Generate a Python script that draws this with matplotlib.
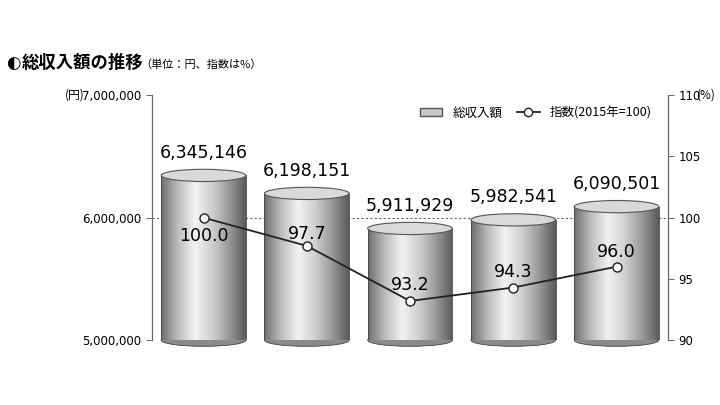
import numpy as np
import matplotlib
matplotlib.use("Agg")
import matplotlib.pyplot as plt
from matplotlib.path import Path
from matplotlib.patches import Ellipse, PathPatch, Patch
from matplotlib.lines import Line2D

plt.rcParams['font.family'] = ['Noto Sans CJK JP', 'DejaVu Sans']

totals = [6345146, 6198151, 5911929, 5982541, 6090501]
total_labels = ["6,345,146", "6,198,151", "5,911,929", "5,982,541", "6,090,501"]
index_vals = [100.0, 97.7, 93.2, 94.3, 96.0]
index_labels = ["100.0", "97.7", "93.2", "94.3", "96.0"]

fig = plt.figure(figsize=(7.2, 4.05), dpi=100)
ax = fig.add_axes([0.211, 0.160, 0.717, 0.605])
ax.set_xlim(-0.5, 4.5)
ax.set_ylim(5_000_000, 7_000_000)
ax2 = ax.twinx()
ax2.set_ylim(90, 110)

w = 0.82
eh = 100_000
cmap = matplotlib.colors.LinearSegmentedColormap.from_list(
    "cyl", ["#6e6e6e", "#bdbdbd", "#f2f2f2", "#d0d0d0", "#9a9a9a", "#5a5a5a"])
grad = np.linspace(0, 1, 256).reshape(1, -1)
y0 = 5_000_000
for i, v in enumerate(totals):
    l, r = i - w/2, i + w/2
    ax.add_patch(Ellipse((i, y0), w, eh, facecolor='#8a8a8a', edgecolor='#444444',
                         lw=0.6, clip_on=False, zorder=0.8))
    pp = PathPatch(Path([(l, v), (l, y0), (r, y0), (r, v), (l, v)]), facecolor='none',
                   edgecolor='#444444', lw=0.6, zorder=2)
    ax.add_patch(pp)
    im = ax.imshow(grad, cmap=cmap, aspect='auto', extent=[l, r, y0, v], zorder=1)
    im.set_clip_path(pp)
    ax.add_patch(Ellipse((i, v), w, eh, facecolor='#d9d9d9', edgecolor='#555555', lw=0.8, zorder=3))
    ax.text(i, v + 110_000, total_labels[i], ha='center', va='bottom', fontsize=12.5, family='DejaVu Sans')

ax.axhline(6_000_000, color='#666666', ls=(0, (2, 2)), lw=0.8, zorder=0.5)

x = np.arange(5)
ax2.plot(x, index_vals, color='#222222', lw=1.3, zorder=5, marker='o', ms=6.5,
         mfc='white', mec='#222222', mew=1.0)
offs = [(0, -1.5), (0, 1.0), (0, 1.3), (0, 1.3), (0, 1.2)]
for i, v in enumerate(index_vals):
    dx, dy = offs[i]
    ax2.text(i + dx, v + dy, index_labels[i], ha='center', va='center', fontsize=12.5,
             family='DejaVu Sans', zorder=6)

ax.set_xticks([])
ax.set_yticks([5_000_000, 6_000_000, 7_000_000])
ax.set_yticklabels(["5,000,000", "6,000,000", "7,000,000"], family='DejaVu Sans', fontsize=8.5)
ax2.set_yticks([90, 95, 100, 105, 110])
ax2.set_yticklabels(["90", "95", "100", "105", "110"], family='DejaVu Sans', fontsize=8.5)
for a in (ax, ax2):
    for s in ('top', 'bottom'):
        a.spines[s].set_visible(False)
    a.spines['left'].set_color('#666666')
    a.spines['right'].set_color('#666666')
    a.tick_params(length=4, width=0.7, color='#666666')

fig.text(0.118, 0.765, "(円)", ha='right', va='center', fontsize=8.5)
fig.text(0.968, 0.765, "(%)", ha='left', va='center', fontsize=8.5)

fig.text(0.008, 0.845, "◐", fontsize=12, va='center', family=['DejaVu Sans'])
fig.text(0.030, 0.845, "総収入額の推移", fontsize=12.5, fontweight='bold', va='center')
fig.text(0.195, 0.840, "（単位：円、指数は%）", fontsize=8, va='center')

handles = [Patch(facecolor='#c8c8c8', edgecolor='#555555'),
           Line2D([0], [0], color='#222222', lw=1.3, marker='o', mfc='white', mec='#222222', ms=6)]
ax2.legend(handles, ["総収入額", "指数(2015年=100)"], loc='upper right', bbox_to_anchor=(0.99, 1.0),
           ncol=2, frameon=False, fontsize=9, handlelength=1.8, columnspacing=1.2)

fig.savefig("out.png", dpi=100)
